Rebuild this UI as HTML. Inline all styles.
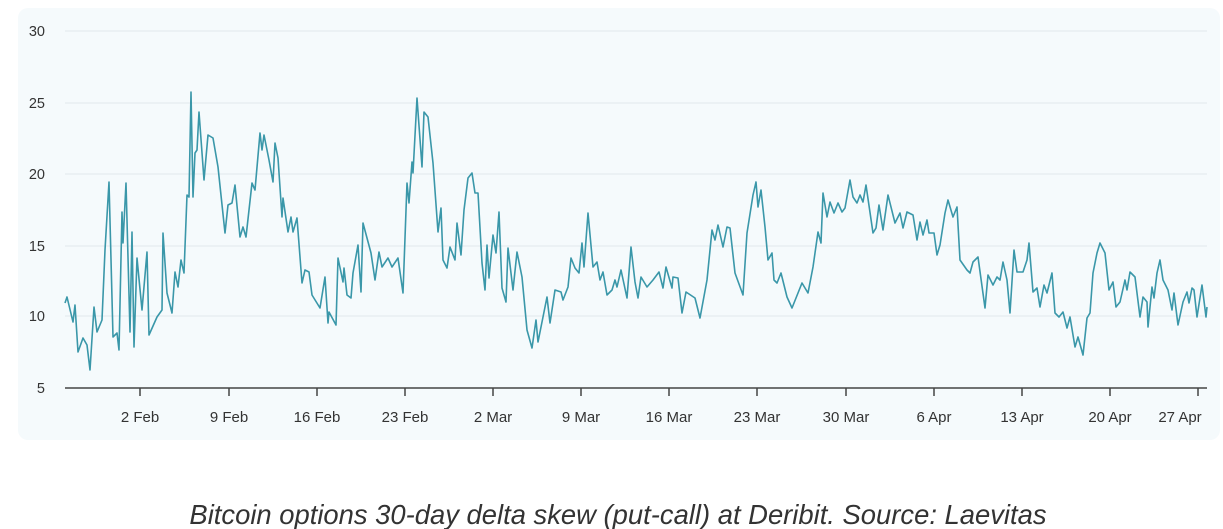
<!DOCTYPE html>
<html><head><meta charset="utf-8"><style>
body{margin:0;width:1223px;height:529px;background:#fff;overflow:hidden;font-family:"Liberation Sans",sans-serif}
</style></head><body>
<svg width="1223" height="529" xmlns="http://www.w3.org/2000/svg" style="position:absolute;left:0;top:0">
<rect x="18" y="8" width="1202" height="432" rx="10" fill="#f5fafc"/>
<g stroke="#e8eef2" stroke-width="1.5">
<line x1="65" y1="31" x2="1207" y2="31"/><line x1="65" y1="103" x2="1207" y2="103"/><line x1="65" y1="174" x2="1207" y2="174"/><line x1="65" y1="246" x2="1207" y2="246"/><line x1="65" y1="316" x2="1207" y2="316"/>
</g>
<g font-size="14.5" fill="#333" text-anchor="end">
<text x="45" y="36">30</text><text x="45" y="108">25</text><text x="45" y="179">20</text><text x="45" y="251">15</text><text x="45" y="321">10</text><text x="45" y="393">5</text>
</g>
<line x1="65" y1="388" x2="1207" y2="388" stroke="#444" stroke-width="1.5"/>
<g stroke="#444" stroke-width="1.5">
<line x1="140" y1="388" x2="140" y2="396"/><line x1="229" y1="388" x2="229" y2="396"/><line x1="317" y1="388" x2="317" y2="396"/><line x1="405" y1="388" x2="405" y2="396"/><line x1="493" y1="388" x2="493" y2="396"/><line x1="581" y1="388" x2="581" y2="396"/><line x1="669" y1="388" x2="669" y2="396"/><line x1="757" y1="388" x2="757" y2="396"/><line x1="846" y1="388" x2="846" y2="396"/><line x1="934" y1="388" x2="934" y2="396"/><line x1="1022" y1="388" x2="1022" y2="396"/><line x1="1110" y1="388" x2="1110" y2="396"/><line x1="1198" y1="388" x2="1198" y2="396"/>
</g>
<g font-size="15" fill="#333" text-anchor="middle">
<text x="140" y="422">2 Feb</text><text x="229" y="422">9 Feb</text><text x="317" y="422">16 Feb</text><text x="405" y="422">23 Feb</text><text x="493" y="422">2 Mar</text><text x="581" y="422">9 Mar</text><text x="669" y="422">16 Mar</text><text x="757" y="422">23 Mar</text><text x="846" y="422">30 Mar</text><text x="934" y="422">6 Apr</text><text x="1022" y="422">13 Apr</text><text x="1110" y="422">20 Apr</text><text x="1180" y="422">27 Apr</text>
</g>
<polyline fill="none" stroke="#3a97a9" stroke-width="1.6" stroke-linejoin="round" points="
65,303 67,297 73,322 75,305 78,352 83,338 87,345 90,370 94,307 97,332 102,320 105,250 109,182 113,337 117,333 119,350 122,212 123,243 126,183 130,332 132,232 134,347 137,258 142,310 147,252 149,335 157,317 162,310 163,233 167,293 172,313 175,272 178,287 181,260 184,273 187,195 189,197 191,92 193,197 195,153 197,150 199,112 204,180 208,135 213,138 218,167 225,233 228,205 232,203 235,185 240,237 243,227 246,237 252,183 255,190 260,133 262,150 264,135 269,160 273,182 275,143 278,158 282,217 283,198 288,232 291,217 293,232 297,218 302,283 305,270 309,272 312,295 320,308 325,277 328,323 329,312 336,325 338,258 343,282 344,268 347,295 351,298 353,273 358,245 361,292 363,223 371,253 375,280 379,252 382,267 388,258 392,267 398,258 403,293 407,183 409,203 412,162 413,173 417,98 422,167 424,112 428,117 433,163 438,232 441,208 443,260 447,268 450,247 455,260 457,223 461,255 464,210 468,178 472,173 475,193 478,193 482,263 485,290 487,245 489,278 493,235 496,253 499,212 502,288 506,302 508,248 513,290 517,252 522,277 527,330 532,348 536,320 538,342 543,317 547,297 550,323 555,290 561,292 563,300 568,287 571,258 575,268 579,273 582,243 584,267 588,213 593,267 597,262 600,280 603,272 607,295 612,290 615,280 617,287 621,270 627,298 631,247 635,282 638,298 641,277 647,287 653,280 659,272 663,288 666,267 672,288 673,277 678,278 682,313 686,292 695,298 700,318 707,280 712,230 715,240 718,225 723,247 727,227 730,228 735,273 743,295 747,233 753,195 756,182 758,207 761,190 765,227 768,260 772,253 774,280 777,283 781,273 787,297 792,308 796,298 802,283 808,293 813,267 818,232 821,243 823,193 827,217 830,202 834,213 838,203 842,212 845,208 850,180 853,197 857,203 860,195 863,202 866,185 873,233 876,228 879,205 883,230 888,195 895,223 900,213 903,228 907,212 913,215 917,240 920,222 923,235 927,220 929,233 934,233 937,255 940,245 945,213 948,200 953,217 957,207 960,260 967,270 970,273 973,262 978,257 985,308 988,275 993,285 997,277 1000,280 1003,262 1007,280 1010,313 1014,250 1017,272 1023,272 1027,260 1029,243 1033,292 1037,288 1040,307 1044,285 1047,293 1052,273 1055,313 1059,317 1063,312 1067,328 1070,317 1075,347 1078,337 1083,355 1087,318 1090,313 1093,273 1097,253 1100,243 1105,253 1109,290 1113,282 1116,307 1120,302 1125,280 1127,290 1130,272 1135,277 1140,317 1143,297 1147,302 1148,327 1152,287 1154,298 1157,273 1160,260 1163,280 1168,290 1172,310 1174,293 1178,325 1183,302 1187,292 1189,303 1192,288 1194,290 1197,317 1202,285 1206,317 1207,307"/>
<text x="618" y="524" font-size="27.4" font-style="italic" fill="#333" text-anchor="middle">Bitcoin options 30-day delta skew (put-call) at Deribit. Source: Laevitas</text>
</svg>
</body></html>
